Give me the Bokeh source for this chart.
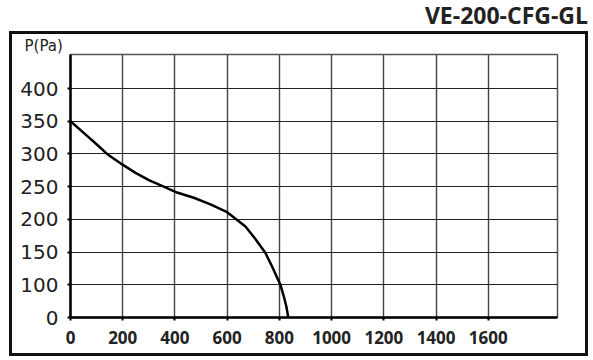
from bokeh.plotting import figure
from bokeh.models import Range1d, FixedTicker, Div
from bokeh.layouts import column
from bokeh.embed import file_html
from bokeh.resources import INLINE

# Data (P axis coordinates: the bottom tick labelled "0" sits at 50)
flow = [0, 57, 102, 140, 198, 249, 300, 357, 408, 472, 536, 600, 632, 670,
        708, 746, 772, 791, 804, 817, 827, 834]
pressure = [350, 330, 314, 300, 284, 271, 260, 250, 241, 233, 223, 211, 201, 189,
            170, 149, 128, 111, 100, 82, 66, 50]
x_ticks = [0, 200, 400, 600, 800, 1000, 1200, 1400, 1600]
y_ticks = [50, 100, 150, 200, 250, 300, 350, 400]
y_labels = {50: "0"}
title_text = "VE-200-CFG-GL"
y_title = "P(Pa)"

p = figure(width=573, height=319, output_backend="svg", toolbar_location=None,
           x_range=Range1d(0, 1865), y_range=Range1d(50, 452),
           min_border_left=58, min_border_right=28, min_border_top=17, min_border_bottom=36)
p.margin = (0, 0, 0, 12)
p.styles = {"outline": "3px solid #111111", "outline-offset": "0px"}
p.background_fill_color = "white"
p.border_fill_color = "white"
p.outline_line_color = "#555555"
p.outline_line_width = 1.5

p.title.text = y_title
p.title.align = "left"
p.title.offset = -46
p.title.standoff = 0
p.title.text_font = "DejaVu Sans"
p.title.text_font_style = "normal"
p.title.text_font_size = "15px"
p.title.text_color = "#222222"

p.xaxis.ticker = FixedTicker(ticks=x_ticks)
p.yaxis.ticker = FixedTicker(ticks=y_ticks)
p.yaxis.major_label_overrides = y_labels
for ax in (p.xaxis[0], p.yaxis[0]):
    ax.axis_line_width = 2.5
    ax.axis_line_color = "black"
    ax.major_tick_line_color = "black"
    ax.major_tick_line_width = 2
    ax.major_tick_out = 3
    ax.major_tick_in = 0
    ax.minor_tick_line_color = None
    ax.major_label_text_color = "#222222"
p.yaxis.major_label_text_font = "DejaVu Sans"
p.yaxis.major_label_text_font_size = "20px"
p.yaxis.major_label_standoff = 9
p.xaxis.major_label_text_font = "Open Sans"
p.xaxis.major_label_text_font_style = "bold"
p.xaxis.major_label_text_font_size = "17px"
p.xaxis.major_label_standoff = 10

p.xgrid.grid_line_color = "#444444"
p.xgrid.grid_line_width = 1.4
p.ygrid.grid_line_color = "#222222"
p.ygrid.grid_line_width = 1.2

p.line(flow, pressure, line_color="black", line_width=2.5, line_join="round")

head = Div(text=('<div style="width:588px;text-align:right;font-family:\'Open Sans\';font-weight:bold;'
                 'font-size:23px;line-height:31px;color:#222222;">' + title_text + '</div>'),
           width=588, height=34)
head.margin = (0, 0, 0, 0)

layout = column(head, p, spacing=0)
open("out.html", "w").write(file_html(layout, INLINE))
